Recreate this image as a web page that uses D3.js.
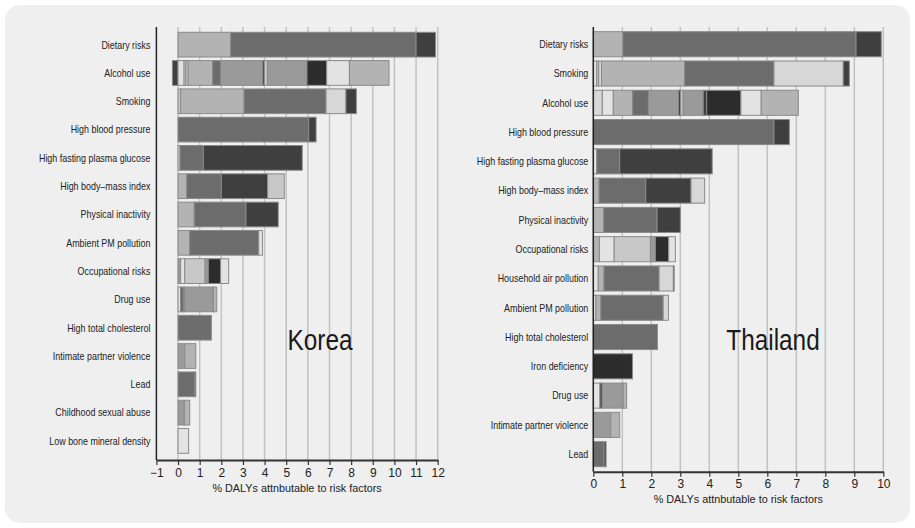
<!DOCTYPE html>
<html>
<head>
<meta charset="utf-8">
<script src="https://cdn.jsdelivr.net/npm/d3@7"></script>
<style>
  html, body { margin: 0; padding: 0; background: #ffffff; }
  svg { display: block; }
  .factor { font-family: "Liberation Sans", Arial, sans-serif; font-size: 11px; fill: #222; }
  .tick text { font-family: "Liberation Sans", Arial, sans-serif; font-size: 12px; fill: #222; }
  .axis-title { font-family: "Liberation Sans", Arial, sans-serif; font-size: 11.5px; fill: #222; }
  .country { font-family: "Liberation Sans", Arial, sans-serif; font-size: 29px; fill: #1a1a1a; }
</style>
</head>
<body>
<svg id="chart" width="915" height="528"></svg>
<script>
// Grey shades used for the cause groups that make up each bar
const shades = {
  A: "#e3e3e3",
  B: "#d7d7d7",
  C: "#c8c8c8",
  D: "#b3b3b3",
  E: "#9a9a9a",
  F: "#6c6c6c",
  G: "#3f3f3f",
  H: "#2c2c2c"
};

// Korea
const koreaFactors = [
  "Dietary risks", "Alcohol use", "Smoking", "High blood pressure",
  "High fasting plasma glucose", "High body\u2013mass index", "Physical inactivity",
  "Ambient PM pollution", "Occupational risks", "Drug use", "High total cholesterol",
  "Intimate partner violence", "Lead", "Childhood sexual abuse", "Low bone mineral density"
];
const koreaValues = [
  [2.43, 8.57, 0.9],
  [-0.26, 0.28, 0.08, 0.11, 1.13, 0.37, 1.93, 0.09, 0.14, 1.83, 0.91, 1.05, 1.83],
  [0.12, 2.93, 3.79, 0.92, 0.48],
  [6.04, 0.34],
  [0.09, 1.08, 4.57],
  [0.40, 1.60, 2.14, 0.77],
  [0.75, 2.39, 1.49],
  [0.54, 3.19, 0.17],
  [0.12, 0.19, 0.94, 0.15, 0.57, 0.37],
  [0.12, 0.13, 0.06, 1.32, 0.16],
  [1.54],
  [0.31, 0.51],
  [0.77, 0.05],
  [0.29, 0.25],
  [0.49]
];
const koreaShades = [
  "DFG",
  "GABCDFEGCEHAD",
  "CDFBG",
  "FG",
  "AFG",
  "DFGC",
  "DFG",
  "DFA",
  "EACEHA",
  "AFGED",
  "F",
  "ED",
  "FG",
  "ED",
  "A"
];
const koreaTicks = d3.range(-1, 13);

// Thailand
const thaiFactors = [
  "Dietary risks", "Smoking", "Alcohol use", "High blood pressure",
  "High fasting plasma glucose", "High body\u2013mass index", "Physical inactivity",
  "Occupational risks", "Household air pollution", "Ambient PM pollution",
  "High total cholesterol", "Iron deficiency", "Drug use",
  "Intimate partner violence", "Lead"
];
const thaiValues = [
  [1.02, 8.04, 0.87],
  [0.12, 0.07, 0.09, 2.87, 3.08, 2.39, 0.21],
  [0.31, 0.38, 0.67, 0.54, 1.04, 0.07, 0.09, 0.69, 0.12, 1.18, 0.70, 1.28],
  [6.23, 0.53],
  [0.12, 0.79, 3.19],
  [0.20, 1.61, 1.56, 0.47],
  [0.36, 1.84, 0.80],
  [0.21, 0.51, 1.25, 0.17, 0.46, 0.23],
  [0.17, 0.20, 1.90, 0.49, 0.03],
  [0.09, 0.17, 2.15, 0.18],
  [2.21],
  [1.35],
  [0.23, 0.08, 0.72, 0.12],
  [0.60, 0.31],
  [0.37, 0.07]
];
const thaiShades = [
  "DFG",
  "ACADFBG",
  "BADFEGCEGHAD",
  "FG",
  "AFG",
  "DFGB",
  "DFG",
  "DACEHA",
  "ADFBG",
  "ADFB",
  "F",
  "H",
  "AGED",
  "ED",
  "FG"
];
const thaiTicks = d3.range(0, 11);

const axisTitle = "% DALYs attnbutable to risk factors";

const svg = d3.select("#chart");

// narrow the text horizontally, like a condensed face
function condense(sel, factor) {
  sel.each(function () {
    const w = this.getComputedTextLength();
    d3.select(this).attr("textLength", w * factor).attr("lengthAdjust", "spacingAndGlyphs");
  });
}

// rounded backdrop
svg.append("rect")
  .attr("x", 5).attr("y", 5).attr("width", 905).attr("height", 518)
  .attr("rx", 15).attr("ry", 15)
  .attr("fill", "#efefef");

function drawPanel(cfg) {
  const g = svg.append("g");
  const x = d3.scaleLinear().domain(cfg.domain).range(cfg.xRange);
  const y = d3.scaleBand().domain(cfg.factors).range(cfg.yRange)
    .paddingInner(cfg.pad).paddingOuter(0);

  // vertical grid lines
  g.append("g").selectAll("line")
    .data(cfg.ticks.filter(t => t !== cfg.domain[0]))
    .join("line")
    .attr("x1", d => x(d)).attr("x2", d => x(d))
    .attr("y1", cfg.top).attr("y2", cfg.axisY)
    .attr("stroke", "#c2c2c2").attr("stroke-width", 1.5);

  // stacked segments
  cfg.factors.forEach((name, i) => {
    const vals = cfg.values[i];
    const codes = cfg.shades[i];
    let pos = 0, neg = 0;
    const segs = vals.map((v, j) => {
      let x0, x1;
      if (v < 0) { x1 = neg; neg += v; x0 = neg; }
      else { x0 = pos; pos += v; x1 = pos; }
      return { x0, x1, c: shades[codes[j]] };
    });
    g.append("g").selectAll("rect")
      .data(segs)
      .join("rect")
      .attr("x", d => x(d.x0))
      .attr("width", d => x(d.x1) - x(d.x0))
      .attr("y", y(name))
      .attr("height", y.bandwidth())
      .attr("fill", d => d.c)
      .attr("stroke", "#8a8a8a")
      .attr("stroke-width", 1);
  });

  // category labels
  g.append("g").selectAll("text")
    .data(cfg.factors)
    .join("text")
    .attr("class", "factor")
    .attr("x", x(cfg.domain[0]) - cfg.labelGap)
    .attr("y", d => y(d) + y.bandwidth() / 2)
    .attr("dy", "0.35em")
    .attr("text-anchor", "end")
    .text(d => d)
    .call(condense, 0.81);

  // left axis line
  g.append("line")
    .attr("x1", x(cfg.domain[0])).attr("x2", x(cfg.domain[0]))
    .attr("y1", cfg.top).attr("y2", cfg.axisY)
    .attr("stroke", "#222").attr("stroke-width", 1.5);

  // bottom axis
  const ax = g.append("g")
    .attr("transform", `translate(0,${cfg.axisY})`)
    .call(d3.axisBottom(x).tickValues(cfg.ticks).tickFormat(d3.format("d"))
      .tickSize(5).tickSizeOuter(0));
  ax.select(".domain").attr("stroke", "#333").attr("stroke-width", 2);
  ax.selectAll(".tick line").attr("stroke", "#333").attr("stroke-width", 1.2);
  ax.selectAll(".tick text").attr("y", 8).attr("font-family", null).attr("font-size", null)
    .text(d => d < 0 ? "\u2212" + Math.abs(d) : d);

  g.append("text")
    .attr("class", "axis-title")
    .attr("x", (cfg.xRange[0] + cfg.xRange[1]) / 2)
    .attr("y", cfg.axisY + 31.5)
    .attr("text-anchor", "middle")
    .text(axisTitle)
    .call(condense, 0.94);

  g.append("text")
    .attr("class", "country")
    .attr("x", cfg.countryX)
    .attr("y", 350)
    .attr("text-anchor", "middle")
    .text(cfg.country)
    .call(condense, 0.84);
}

drawPanel({
  country: "Korea",
  factors: koreaFactors, values: koreaValues, shades: koreaShades, ticks: koreaTicks,
  domain: [-1, 12], xRange: [156.4, 437.7], yRange: [32.3, 453.3], pad: 0.127,
  top: 27, axisY: 460, labelGap: 6, countryX: 320
});

drawPanel({
  country: "Thailand",
  factors: thaiFactors, values: thaiValues, shades: thaiShades, ticks: thaiTicks,
  domain: [0, 10], xRange: [593.3, 883.3], yRange: [31.7, 466.7], pad: 0.144,
  top: 27, axisY: 471.7, labelGap: 5, countryX: 773
});
</script>
</body>
</html>
